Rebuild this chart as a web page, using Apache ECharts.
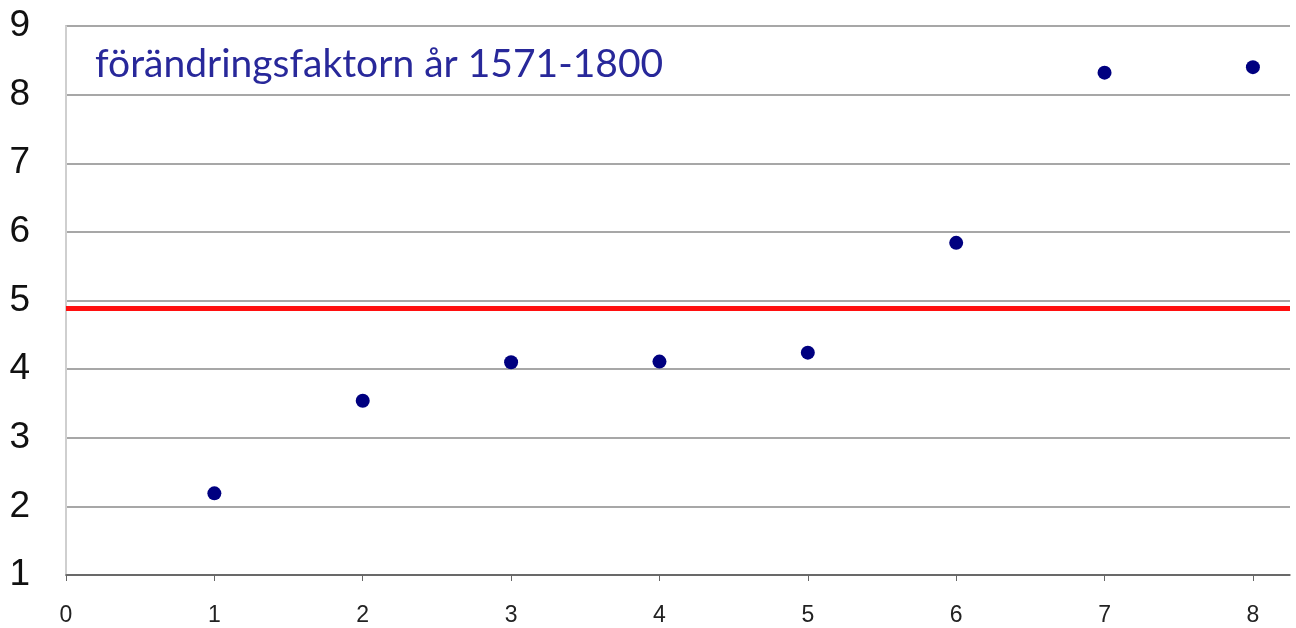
<!DOCTYPE html>
<html>
<head>
<meta charset="utf-8">
<script src="https://cdn.jsdelivr.net/npm/echarts@6/dist/echarts.min.js"></script>
<style>
  html, body { margin: 0; padding: 0; background: #fff; }
  #main { width: 1296px; height: 628px; }
</style>
</head>
<body>
<div id="main"></div>
<script>
// data
var xValues = [1, 2, 3, 4, 5, 6, 7, 8];
var factors = [2.19, 3.54, 4.10, 4.11, 4.24, 5.84, 8.32, 8.40];
var meanFactor = 4.88; // röda linjen
var titleText = 'förändringsfaktorn år 1571-1800';

var points = xValues.map(function (x, i) { return [x, factors[i]]; });

var chart = echarts.init(document.getElementById('main'));

var option = {
  backgroundColor: '#fff',
  animation: false,
  title: {
    text: titleText,
    left: 90,
    top: 40,
    textStyle: { fontFamily: 'Lato', fontWeight: 'normal', fontSize: 39, color: '#28289a' }
  },
  grid: { left: 66, right: 6, top: 26, bottom: 53, containLabel: false },
  xAxis: {
    type: 'value',
    min: 0,
    max: 8.25,
    interval: 1,
    axisLine: { show: true, onZero: false, lineStyle: { color: '#555', width: 1.5 } },
    axisTick: { show: true, length: 6, lineStyle: { color: '#666' } },
    axisLabel: {
      fontSize: 23, color: '#222', fontFamily: 'Liberation Sans', margin: 29,
      showMaxLabel: false,
      formatter: function (v) { return Number.isInteger(v) ? String(v) : ''; }
    },
    splitLine: { show: false }
  },
  yAxis: [{
    type: 'value',
    min: 1,
    max: 9,
    interval: 1,
    axisLine: { show: true, onZero: false, lineStyle: { color: '#555', width: 1.5 } },
    axisTick: { show: false },
    axisLabel: { fontSize: 37, color: '#111', fontFamily: 'Liberation Sans', margin: 36 },
    splitLine: { show: true, lineStyle: { color: '#8a8a8a', width: 1.5 } }
  }, {
    type: 'value',
    position: 'right',
    min: 1,
    max: 9,
    interval: 1,
    axisLine: { show: true, lineStyle: { color: '#cfcfcf', width: 2 } },
    axisTick: { show: false },
    axisLabel: { show: false },
    splitLine: { show: false }
  }],
  series: [{
    type: 'scatter',
    data: points,
    symbol: 'circle',
    symbolSize: 14,
    itemStyle: { color: '#000080', opacity: 1 },
    markLine: {
      silent: true,
      symbol: ['none', 'none'],
      label: { show: false },
      lineStyle: { color: '#ff1010', width: 5, type: 'solid', opacity: 1 },
      data: [{ yAxis: meanFactor }]
    }
  }]
};

chart.setOption(option);
</script>
</body>
</html>
